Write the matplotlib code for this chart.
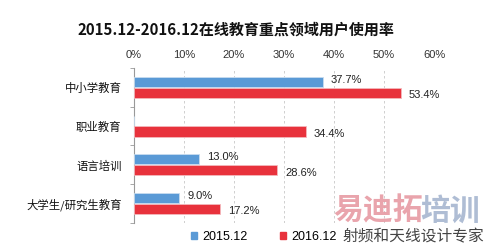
import matplotlib
matplotlib.use("Agg")
import matplotlib.pyplot as plt
import numpy as np
from matplotlib.patches import Patch

plt.rcParams["font.family"] = ["Noto Sans CJK SC", "DejaVu Sans"]

# ---- data ----
categories = ["中小学教育", "职业教育", "语言培训", "大学生/研究生教育"]
vals_2015 = [37.7, np.nan, 13.0, 9.0]
vals_2016 = [53.4, 34.4, 28.6, 17.2]
series_names = ["2015.12", "2016.12"]
xticks = [0, 10, 20, 30, 40, 50, 60]

BLUE = "#5a9ad6"
RED = "#e8323c"

fig = plt.figure(figsize=(4.88, 2.48), dpi=100)
ax = fig.add_axes([0.2746, 0.101, 0.6148, 0.625])

y = np.arange(len(categories))
h = 0.26
off = 0.14

b1 = [v if not np.isnan(v) else 0 for v in vals_2015]
ax.barh(y - off, b1, height=h, color=BLUE, edgecolor="#c8dcef", linewidth=0.6, zorder=3)
ax.barh(y + off, vals_2016, height=h, color=RED, edgecolor="#f4b8bc", linewidth=0.6, zorder=3)

for yi, v in zip(y, vals_2015):
    if not np.isnan(v):
        ax.text(v + 1.6, yi - off - 0.06, f"{v:.1f}%", va="center", ha="left",
                fontsize=8, family="Liberation Sans", color="#222222")
for yi, v in zip(y, vals_2016):
    ax.text(v + 1.6, yi + off + 0.06, f"{v:.1f}%", va="center", ha="left",
            fontsize=8, family="Liberation Sans", color="#222222")

ax.set_xlim(0, 60)
ax.set_ylim(3.5, -0.5)
ax.set_xticks(xticks)
ax.set_xticklabels([f"{t}%" for t in xticks], fontsize=8, family="Liberation Sans", color="#333333")
ax.xaxis.tick_top()
ax.tick_params(axis="x", length=0, pad=6)
ax.grid(axis="x", linestyle=(0, (3, 3)), color="#c8c8c8", linewidth=0.6, zorder=0)

ax.set_yticks(y)
ax.set_yticklabels(categories, fontsize=8.2, color="#111111")
ax.tick_params(axis="y", length=0, pad=9)
ax.set_yticks(np.arange(-0.5, 3.6, 1.0), minor=True)
ax.tick_params(axis="y", which="minor", length=3, color="#999999", direction="out")

for s in ["top", "right", "bottom"]:
    ax.spines[s].set_visible(False)
ax.spines["left"].set_color("#999999")
ax.spines["left"].set_linewidth(0.8)

fig.text(0.483, 0.88, "2015.12-2016.12在线教育重点领域用户使用率", ha="center", va="center",
         fontsize=10.8, fontweight="bold", color="#111111")

handles = [Patch(color=BLUE), Patch(color=RED)]
fig.legend(handles, series_names, loc="center", bbox_to_anchor=(0.54, 0.044), ncol=2,
           frameon=False, handlelength=0.5, handleheight=0.5,
           handletextpad=0.4, columnspacing=2.6, prop={"family": "Liberation Sans", "size": 9})

# watermark text
fig.text(0.684, 0.152, "易迪拓", fontsize=21.5, fontweight="bold", color="#e79aa3",
         alpha=0.9, ha="left", va="center")
fig.text(0.862, 0.152, "培训", fontsize=21.5, fontweight="bold", color="#a6b6d0",
         alpha=0.9, ha="left", va="center")
fig.text(0.992, 0.044, "射频和天线设计专家", fontsize=11.3, color="#444444",
         ha="right", va="center")

fig.savefig("out.png", dpi=100, facecolor="white")
